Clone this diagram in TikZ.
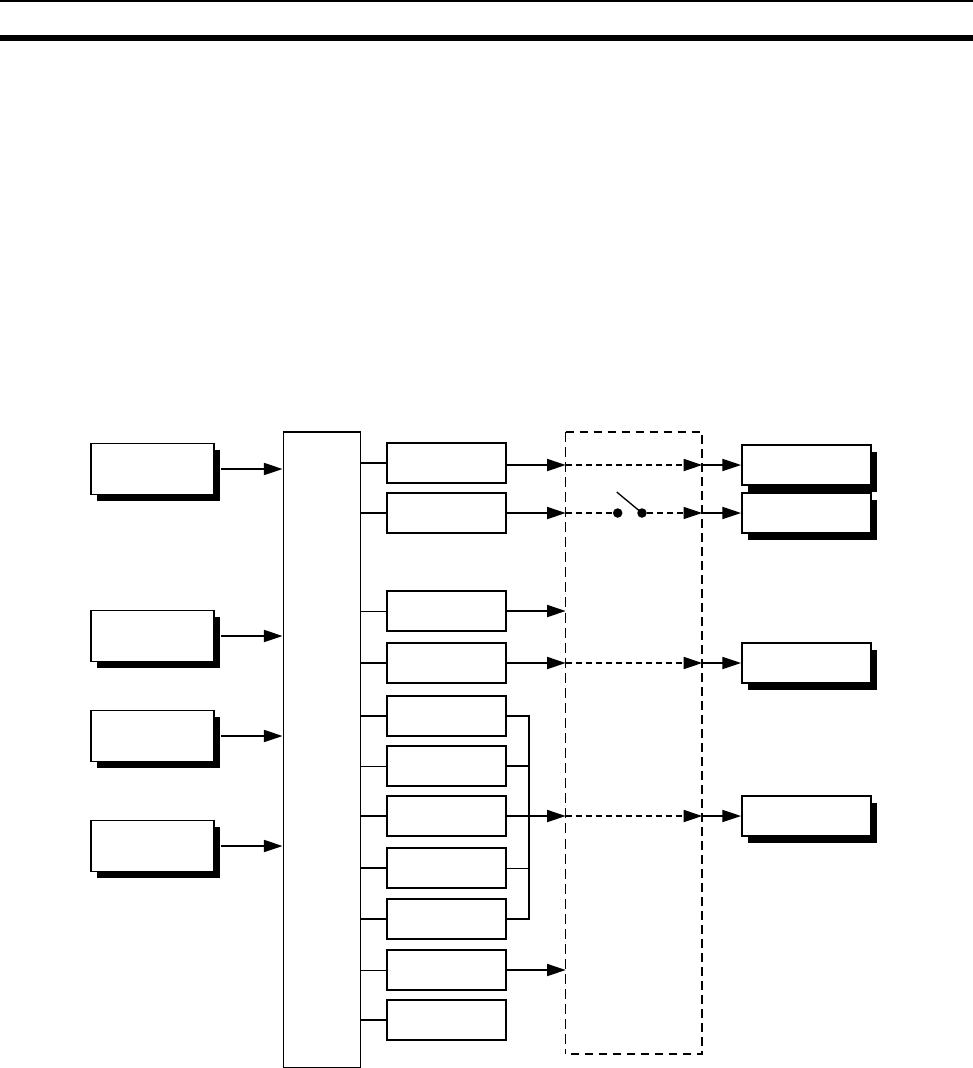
\documentclass[tikz,border=0pt]{standalone}
\usetikzlibrary{arrows.meta,shadows}
\begin{document}
\begin{tikzpicture}[x=0.75pt,y=-0.75pt,
  thk/.style={line width=1.35pt},
  thn/.style={line width=0.65pt},
  tip/.style={-{Triangle[length=14pt,width=9pt]}},
  arr/.style={line width=1.35pt,tip},
  dotarr/.style={line width=1.35pt,dash pattern=on 4.5pt off 3pt,tip},
  shbox/.style={draw,line width=1.35pt,fill=white,inner sep=0pt,
    drop shadow={shadow xshift=4.5pt,shadow yshift=-5pt,fill=black,opacity=1}},
  lbox/.style={shbox,minimum width=123*0.75pt,minimum height=51*0.75pt},
  rbox/.style={shbox,minimum width=129*0.75pt,minimum height=40*0.75pt},
  mbox/.style={draw,line width=1.35pt,fill=white,inner sep=0pt,minimum width=119*0.75pt,minimum height=40*0.75pt},
  swdot/.style={circle,fill=black,inner sep=0pt,minimum size=9.5*0.75pt}
]
\useasboundingbox (0,0) rectangle (973,1068);
% header rules
\draw[line width=1.5pt] (0,1) -- (973,1);
\draw[line width=4.3pt] (0,38) -- (973,38);

% left boxes
\node[lbox] (L1) at (152.5,469) {};
\node[lbox] (L2) at (152.5,636) {};
\node[lbox] (L3) at (152.5,736) {};
\node[lbox] (L4) at (152.5,846) {};

% bus box
\node[draw,thn,inner sep=0pt,minimum width=77*0.75pt,minimum height=635*0.75pt] (bus) at (321.5,749.5) {};
\draw[thk] (bus.north west) -- (bus.north east) -- (bus.south east) -- (bus.south west);

% middle boxes
\foreach \n/\y in {1/463,2/513,3/611,4/663,5/716,6/766,7/816,8/868,9/919,10/970,11/1020}{
  \node[mbox] (M\n) at (446.5,\y) {};
}

% right boxes
\node[rbox] (R1) at (806.5,465) {};
\node[rbox] (R2) at (806.5,513) {};
\node[rbox] (R3) at (806.5,663) {};
\node[rbox] (R4) at (806.5,816) {};

% dashed enclosure
\node[inner sep=0pt,minimum width=136*0.75pt,minimum height=622*0.75pt] (db) at (634,743) {};
\draw[thn,dash pattern=on 7.5pt off 3.8pt] (db.north west) -- (db.south west);
\draw[line width=1.6pt,dash pattern=on 6.5pt off 4pt] (db.north west) -- (db.north east) -- (db.south east) -- (db.south west);

% left inputs
\foreach \n in {1,2,3,4}{
  \draw[arr] ([xshift=4.5pt]L\n.east) -- (L\n.east -| bus.west);
}

% bus taps
\foreach \n in {1,2,4,5,7,8,9,11}{
  \draw[thk] (M\n.west -| bus.east) -- (M\n.west);
}
\foreach \n in {3,6,10}{
  \draw[thn] (M\n.west -| bus.east) -- (M\n.west);
}

% row 1
\draw[arr] (M1.east |- R1.west) -- (R1.west -| db.west);
\draw[dotarr] (R1.west -| db.west) -- (R1.west -| db.east);
\draw[arr] (R1.west -| db.east) -- (R1.west);

% row 2 with switch
\node[swdot] (s1) at (617.7,513) {};
\node[swdot] (s2) at (642,513) {};
\coordinate (lev) at (616.7,492);
\draw[arr] (M2.east) -- (M2.east -| db.west);
\draw[thk,dash pattern=on 4.5pt off 3pt] (M2.east -| db.west) -- (s1);
\draw[line width=1pt] (lev) -- (s2.center);
\draw[line width=0.8pt,dash pattern=on 4.5pt off 3pt,tip] (s2) -- (s2 -| db.east);
\draw[arr] (R2.west -| db.east) -- (R2.west);

% row 3
\draw[arr] (M3.east) -- (M3.east -| db.west);

% row 4
\draw[arr] (M4.east) -- (M4.east -| db.west);
\draw[dotarr] (M4.east -| db.west) -- (M4.east -| db.east);
\draw[arr] (M4.east -| db.east) -- (R3.west);

% bracket group
\coordinate (bx) at (529,0);
\draw[line width=1.1pt] (M5.east) -- (M5.east -| bx) -- (M9.east -| bx) -- (M9.east);
\draw[thk] ([xshift=-1.5pt]M6.east) -- (M6.east -| bx);
\draw[thk] (M7.east) -- (M7.east -| bx);
\draw[thn] (M8.east) -- (M8.east -| bx);
\draw[arr] (M7.east -| bx) -- (M7.east -| db.west);
\draw[dotarr] (M7.east -| db.west) -- (M7.east -| db.east);
\draw[arr] (M7.east -| db.east) -- (R4.west);

% row 10
\draw[arr] (M10.east) -- (M10.east -| db.west);
\end{tikzpicture}
\end{document}
